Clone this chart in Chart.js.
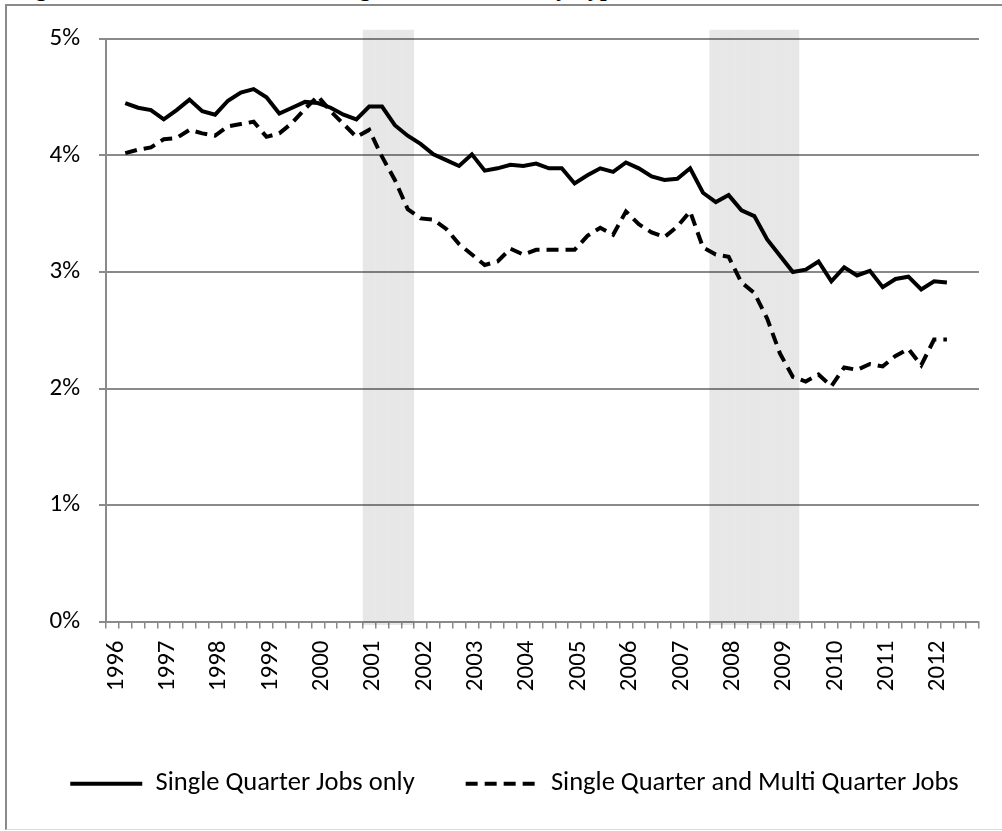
<!DOCTYPE html>
<html lang="en">
<head>
<meta charset="UTF-8">
<title>Single Quarter Jobs, by Type</title>
<script src="https://cdn.jsdelivr.net/npm/chart.js@4/dist/chart.umd.min.js"></script>
<style>
  html, body { margin: 0; padding: 0; background: #fff; overflow: hidden; }
  body { width: 1002px; height: 831px; position: relative; }
  #title { position: absolute; left: 14px; top: -24px; font: bold 24px/24px "Liberation Serif", "Times New Roman", serif; white-space: nowrap; color: #000; }
  #frame { position: absolute; left: 5px; top: 4px; width: 1010px; height: 826px; box-sizing: border-box;
           border-left: 2px solid #8a8a8a; border-top: 2px solid #8a8a8a; border-bottom: 1px solid #dcdcdc; }
  #chart { position: absolute; left: 0; top: 0; }
</style>
</head>
<body>
<div id="title">Figure 3: Share of Workers in Single Quarter Jobs, by Type</div>
<div id="frame"></div>
<!-- canvas runs a little past the right edge so the centred legend lands where the original has it -->
<canvas id="chart" width="1029" height="831"></canvas>
<script>
// quarters 1996Q1 .. 2012Q4, one label shown per year
const years = [1996, 1997, 1998, 1999, 2000, 2001, 2002, 2003, 2004, 2005, 2006, 2007, 2008, 2009, 2010, 2011, 2012];
const quarters = [];
years.forEach(y => { for (let q = 1; q <= 4; q++) quarters.push(y + 'Q' + q); });

// series start in 1996Q2 and end in 2012Q2 (percent)
const firstQuarter = '1996Q2';
const singleOnly = [
  4.45, 4.41, 4.39, 4.31, 4.39, 4.48, 4.38, 4.35, 4.47, 4.54, 4.57, 4.50, 4.36, 4.41, 4.46, 4.45,
  4.41, 4.35, 4.31, 4.42, 4.42, 4.26, 4.17, 4.10, 4.01, 3.96, 3.91, 4.01, 3.87, 3.89, 3.92, 3.91,
  3.93, 3.89, 3.89, 3.76, 3.83, 3.89, 3.86, 3.94, 3.89, 3.82, 3.79, 3.80, 3.89, 3.68, 3.60, 3.66,
  3.53, 3.48, 3.28, 3.14, 3.00, 3.02, 3.09, 2.92, 3.04, 2.97, 3.01, 2.87, 2.94, 2.96, 2.85, 2.92, 2.91
];
const singleAndMulti = [
  4.02, 4.05, 4.07, 4.14, 4.15, 4.22, 4.19, 4.17, 4.25, 4.27, 4.29, 4.16, 4.19, 4.28, 4.40, 4.51,
  4.38, 4.27, 4.16, 4.22, 3.99, 3.79, 3.54, 3.46, 3.45, 3.37, 3.24, 3.15, 3.06, 3.09, 3.20, 3.15,
  3.19, 3.19, 3.19, 3.19, 3.31, 3.38, 3.32, 3.52, 3.41, 3.34, 3.30, 3.39, 3.52, 3.21, 3.15, 3.13,
  2.91, 2.82, 2.60, 2.30, 2.10, 2.06, 2.12, 2.02, 2.18, 2.16, 2.21, 2.19, 2.28, 2.34, 2.20, 2.42, 2.42
];

// shaded recession quarters
const recessionQuarters = ['2001Q1', '2001Q2', '2001Q3', '2001Q4',
  '2007Q4', '2008Q1', '2008Q2', '2008Q3', '2008Q4', '2009Q1', '2009Q2'];
const shadeRange = [-0.03, 5.08];

const yTicks = [0, 1, 2, 3, 4, 5];
const seriesNames = ['Single Quarter Jobs only', 'Single Quarter and Multi Quarter Jobs'];

const FONT = 'Carlito, Calibri, Lato, sans-serif';
const GRID = '#8a8a8a';

function alignToQuarters(values) {
  const start = quarters.indexOf(firstQuarter);
  return quarters.map((q, i) => (i >= start && i - start < values.length) ? values[i - start] : null);
}

new Chart(document.getElementById('chart'), {
  type: 'line',
  data: {
    labels: quarters,
    datasets: [
      { label: seriesNames[0], data: alignToQuarters(singleOnly), borderColor: '#000', backgroundColor: '#000',
        borderWidth: 4, pointRadius: 0, tension: 0, order: 1 },
      { label: seriesNames[1], data: alignToQuarters(singleAndMulti), borderColor: '#000', backgroundColor: '#000',
        borderWidth: 4, borderDash: [12, 7], pointRadius: 0, tension: 0, order: 2 },
      { type: 'bar', label: 'Recession', data: quarters.map(q => recessionQuarters.includes(q) ? shadeRange : null),
        backgroundColor: 'rgba(0,0,0,0.095)', borderWidth: 0, barPercentage: 1, categoryPercentage: 1,
        inflateAmount: 0, clip: false, order: 5 }
    ]
  },
  options: {
    responsive: false,
    animation: false,
    layout: { padding: { left: 0, right: 0, top: 39, bottom: 24 } },
    plugins: {
      tooltip: { enabled: false },
      legend: {
        position: 'bottom',
        labels: {
          usePointStyle: true, pointStyle: 'line', pointStyleWidth: 72,
          padding: 51, color: '#000', font: { family: FONT, size: 26.5 },
          generateLabels: chart => Chart.defaults.plugins.legend.labels.generateLabels(chart)
            .filter(l => l.datasetIndex < 2)
            .map(l => Object.assign(l, {
              lineDash: chart.data.datasets[l.datasetIndex].borderDash || [],
              lineWidth: 4, strokeStyle: '#000', fillStyle: '#000'
            }))
        }
      }
    },
    scales: {
      x: {
        offset: true,
        grid: { offset: true, drawOnChartArea: false, drawTicks: true, tickLength: 7, color: GRID, lineWidth: 1.5 },
        border: { color: GRID, width: 2 },
        ticks: {
          autoSkip: false, minRotation: 90, maxRotation: 90, padding: 12, labelOffset: 4, color: '#000',
          font: { family: FONT, size: 25 },
          callback: (v, i) => i % 4 === 0 ? quarters[i].slice(0, 4) : ''
        },
        afterFit: s => { s.height = 98; }
      },
      y: {
        min: 0, max: 5,
        afterBuildTicks: s => { s.ticks = yTicks.map(v => ({ value: v })); },
        grid: { color: GRID, lineWidth: 2, tickLength: 7 },
        border: { color: GRID, width: 2 },
        ticks: { padding: 19, color: '#000', font: { family: FONT, size: 25 }, callback: v => v + '%' },
        afterFit: s => { s.width = 106; }
      },
      // empty spacer so the plot stops short of the right edge
      yRight: {
        position: 'right', display: true,
        grid: { display: false }, border: { display: false }, ticks: { display: false },
        afterFit: s => { s.width = 50; }
      }
    }
  }
});
</script>
</body>
</html>
